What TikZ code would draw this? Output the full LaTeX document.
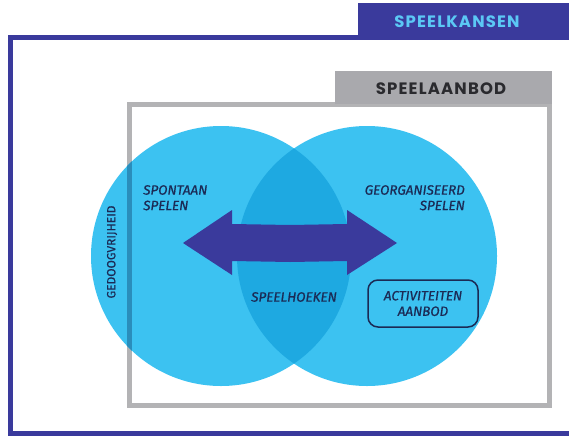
\documentclass[tikz,border=0pt]{standalone}
\usepackage{fontspec}
\setmainfont{Fira Sans}
\newfontfamily\titlefont{Poppins}[LetterSpace=7]
\newfontfamily\labfont{Fira Sans}[ItalicFeatures={FakeBold=0.8}, UprightFeatures={FakeBold=0.6}]
\definecolor{frameblue}{HTML}{3A3A9C}
\definecolor{tabgrey}{HTML}{A9A9AD}
\definecolor{linegrey}{HTML}{B3B3B5}
\definecolor{circblue}{HTML}{3CC2F1}
\definecolor{lensblue}{HTML}{1EA9E1}
\definecolor{tealline}{HTML}{2A8DBB}
\definecolor{navy}{HTML}{1B2A55}
\definecolor{titlecyan}{HTML}{5BC8F5}
\definecolor{titledark}{HTML}{2A2A2E}
\tikzset{
  lab/.style={inner sep=0pt, text=navy, font=\labfont\fontsize{13.5}{15.5}\selectfont\itshape},
  titletext/.style={inner sep=0pt, font=\titlefont\bfseries\fontsize{16.5}{18}\selectfont},
}
\begin{document}
\begin{tikzpicture}[x=1pt,y=-1pt]
\useasboundingbox (0,0) rectangle (569,436);
\clip (0,0) rectangle (569,436);
% outer blue frame and tab
\draw[frameblue, line width=5pt] (10.5,37.5) rectangle (580,433.5);
\fill[frameblue] (358,3) rectangle (580,40);
\node[titletext, text=titlecyan] (kansen) at (457,22) {SPEELKANSEN};
% grey frame and tab
\draw[linegrey, line width=5pt] (129.5,104) rectangle (549.5,405);
\fill[tabgrey] (335,71) rectangle (552,104);
\node[titletext, text=titledark] (aanbod) at (441,89) {SPEELAANBOD};
% circles
\fill[circblue] (221,256) circle (130);
\fill[circblue] (367,256) circle (130);
\begin{scope}
  \clip (221,256) circle (130);
  \fill[lensblue] (367,256) circle (130);
\end{scope}
\begin{scope}
  \clip (221,256) circle (130);
  \draw[tealline, line width=5pt] (129.5,104) -- (129.5,405);
\end{scope}
% double arrow
\fill[frameblue] (183,243) -- (232,210) -- (232,224) -- (290,225) -- (347,224)
  -- (347,210) -- (397,243) -- (347,275) -- (347,261) -- (290,262) -- (232,261)
  -- (232,275) -- cycle;
% labels
\node[lab, align=left, anchor=north west] (spontaan) at (143,185) {SPONTAAN\\SPELEN};
\node[lab, align=right, anchor=north east] (georg) at (465,185) {GEORGANISEERD\\SPELEN};
\node[lab] (hoeken) at (294,297) {SPEELHOEKEN};
\node[lab, align=center, draw=navy, line width=1.5pt, rounded corners=10pt,
      minimum width=110pt, minimum height=47pt] (activ) at (423,303.5) {ACTIVITEITEN\\AANBOD};
\node[inner sep=0pt, text=navy, font=\labfont\fontsize{12}{14}\selectfont, rotate=90] (gedoog) at (112,252) {GEDOOGVRIJHEID};
\end{tikzpicture}
\end{document}
